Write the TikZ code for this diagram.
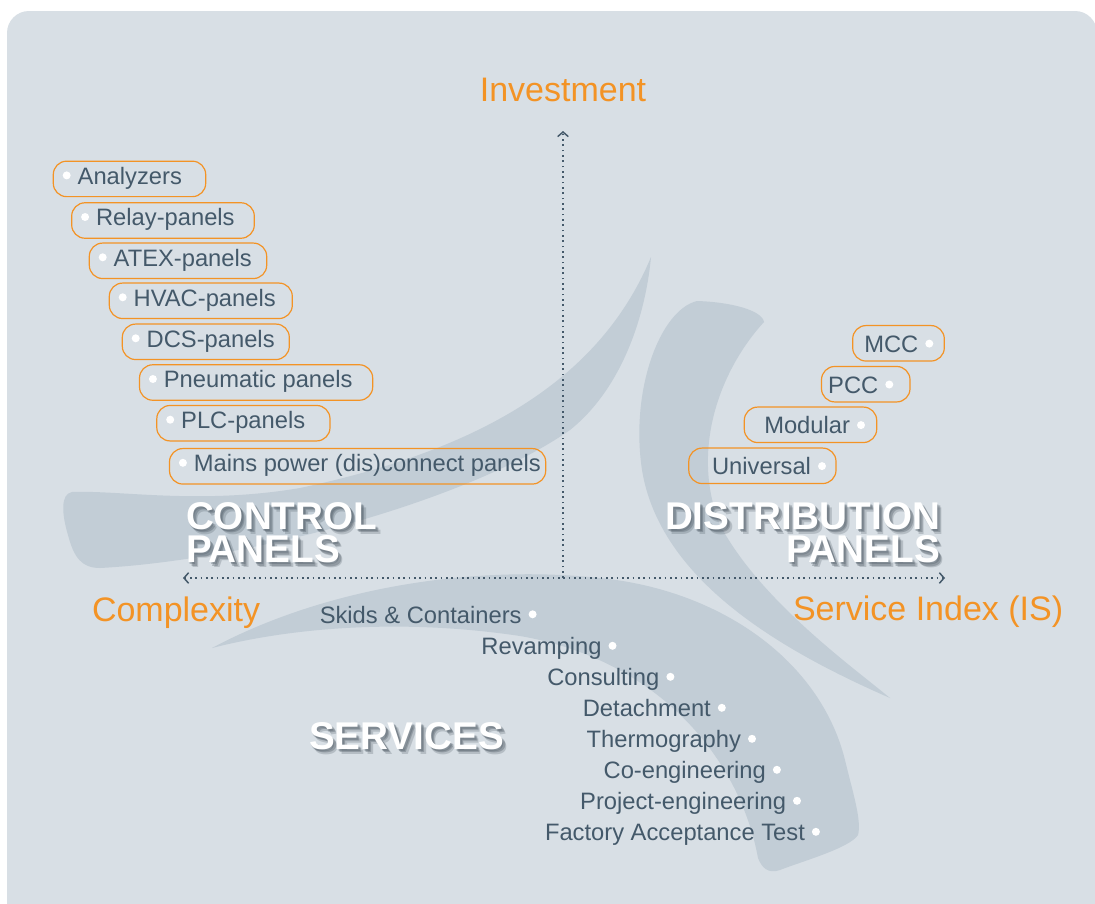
\documentclass[tikz,border=0pt]{standalone}
\usepackage{fontspec}
\setmainfont{Liberation Sans}
\usetikzlibrary{arrows.meta,calc}
\definecolor{bg}{HTML}{D8DFE5}
\definecolor{sw}{HTML}{C2CDD6}
\definecolor{ink}{HTML}{44596A}
\definecolor{orng}{HTML}{F39325}
\definecolor{shd}{HTML}{4E5A64}

\newcommand\pillL[5]{%
  \node[pill, minimum width={(#3-#2)*0.75pt}, anchor=west] (#1) at (#2,#4) {};
  \fill[bullet] (#2+13.4, #4-3.5) circle (3pt);
  \node[item, anchor=base west] (#1-t) at (#2+24.4, #4+5.2) {#5};
}
\newcommand\pillR[6]{%
  \node[pill, minimum width={(#3-#2)*0.75pt}, anchor=west] (#1) at (#2,#4) {};
  \fill[bullet] (#5, #4+0.3) circle (3pt);
  \node[item, anchor=base east] (#1-t) at (#5-11, #4+9) {#6};
}
\newcommand\svc[4]{%
  \fill[bullet] (#2, #3-8.7) circle (3pt);
  \node[item, anchor=base east] (#1) at (#2-11, #3) {#4};
}
\newcommand\shtitle[4]{%
  \foreach \dx/\dy/\op in {4.5/5/0.25, 3/3.5/0.35, 1.8/2.2/0.35} {
    \node[title, text=shd, opacity=\op, anchor=#2] (#1-s\dx) at ($(#3)+(\dx,\dy)$) {#4};
  }
  \node[title, anchor=#2] (#1) at (#3) {#4};
}

\begin{document}
\begin{tikzpicture}[x=0.75pt,y=-0.75pt,
  pill/.style={draw=orng, line width=0.9pt, rounded corners=10pt, minimum height=26.6pt, inner sep=0pt, outer sep=0pt},
  item/.style={text=ink, font=\fontsize{17.8}{20}\selectfont, inner sep=0pt, outer sep=0pt},
  axislabel/.style={text=orng, font=\fontsize{25.5}{28}\selectfont, inner sep=0pt, outer sep=0pt},
  title/.style={text=white, font=\fontsize{29}{31}\selectfont\bfseries, inner sep=0pt, outer sep=0pt},
  bullet/.style={fill=white},
  axis/.style={draw=ink, line width=1.2pt, dash pattern=on 1.2pt off 2.8pt},
  barb/.tip={Straight Barb[length=3.5pt,width=8pt,line width=1.1pt]}
]
\useasboundingbox (0,0) rectangle (1095,903);
\fill[white] (0,0) rectangle (1095,903);
\fill[bg, rounded corners=16.5pt] (7,11) rectangle (1097,940);

% swooshes
\fill[sw] (651,257) .. controls (600,380) and (480,450) .. (300,488)
  .. controls (200,505) and (120,490) .. (72,492)
  .. controls (60,494) and (62,515) .. (68,535)
  .. controls (74,558) and (82,568) .. (100,568)
  .. controls (250,560) and (470,500) .. (570,430)
  .. controls (620,390) and (645,320) .. (651,257) -- cycle;
\fill[sw] (697,301) .. controls (730,302) and (762,310) .. (764,322)
  .. controls (720,370) and (690,450) .. (720,525)
  .. controls (760,600) and (850,665) .. (890,698)
  .. controls (780,650) and (660,580) .. (642,470)
  .. controls (630,390) and (660,310) .. (697,301) -- cycle;
\fill[sw] (212,648) .. controls (330,585) and (480,565) .. (600,578)
  .. controls (720,590) and (820,660) .. (845,760)
  .. controls (852,790) and (862,820) .. (858,835)
  .. controls (850,848) and (800,862) .. (780,870)
  .. controls (768,874) and (762,868) .. (758,858)
  .. controls (740,760) and (660,660) .. (520,636)
  .. controls (400,618) and (290,628) .. (212,648) -- cycle;

% axes
\coordinate (O) at (563,578);
\coordinate (T) at (563,131);
\coordinate (L) at (183,578);
\coordinate (R) at (945,578);
\draw[axis, -barb] (O) -- (T);
\draw[axis, barb-barb] (L) -- (R);

% axis labels
\node[axislabel, anchor=base] (inv) at (563,101.7) {Investment};
\node[axislabel, anchor=base west] (cx) at (92,621) {Complexity};
\node[axislabel, anchor=base west] (si) at (793,620) {Service Index (IS)};

% control panels
\pillL{an}{53.3}{205.7}{178.9}{Analyzers}
\pillL{rp}{71.7}{254.3}{220.5}{Relay-panels}
\pillL{ap}{89.3}{266.7}{260.8}{ATEX-panels}
\pillL{hp}{109.3}{292.3}{300.8}{HVAC-panels}
\pillL{dp}{122.3}{289.3}{341.8}{DCS-panels}
\pillL{pp}{139.5}{372.7}{382.5}{Pneumatic panels}
\pillL{lp}{156.8}{330}{423.2}{PLC-panels}
\pillL{mp}{169.5}{545.7}{466.3}{Mains power (dis)connect panels}

% distribution panels
\pillR{mcc}{852.7}{944.3}{343.3}{929.3}{MCC}
\pillR{pcc}{821.5}{910}{384.2}{889.3}{PCC}
\pillR{mod}{744.3}{876.7}{424.8}{861}{Modular}
\pillR{uni}{688.8}{836}{465.8}{822}{Universal}

% services
\svc{s1}{532.6}{623}{Skids \& Containers}
\svc{s2}{612.5}{654.5}{Revamping}
\svc{s3}{670.4}{685.5}{Consulting}
\svc{s4}{721.8}{716.5}{Detachment}
\svc{s5}{752}{747.5}{Thermography}
\svc{s6}{776.9}{778.5}{Co-engineering}
\svc{s7}{797}{809.5}{Project-engineering}
\svc{s8}{815.9}{840.5}{Factory Acceptance Test}

% titles
\coordinate (c1) at (186,529.3);
\coordinate (c2) at (186,562.7);
\coordinate (d1) at (940,529.3);
\coordinate (d2) at (940,562.7);
\coordinate (sv) at (309,749);
\shtitle{ctrlA}{base west}{c1}{CONTROL}
\shtitle{ctrlB}{base west}{c2}{PANELS}
\shtitle{distA}{base east}{d1}{DISTRIBUTION}
\shtitle{distB}{base east}{d2}{PANELS}
\shtitle{serv}{base west}{sv}{SERVICES}
\end{tikzpicture}
\end{document}
